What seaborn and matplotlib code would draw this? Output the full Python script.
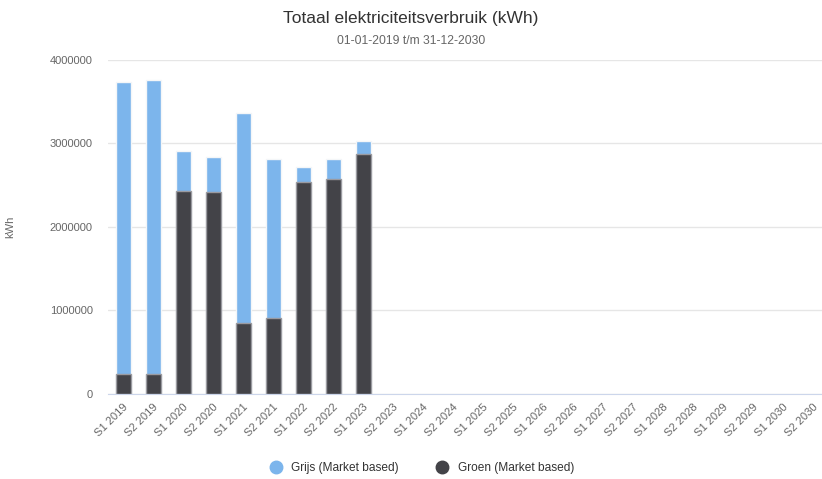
import seaborn as sns
import matplotlib.pyplot as plt
import numpy as np
import pandas as pd
from matplotlib.lines import Line2D

periods = [f'S{h} {y}' for y in range(2019, 2031) for h in (1, 2)]

# values (kWh), only up to S1 2023
grijs = [3490000, 3510000, 480000, 430000, 2520000, 1905000, 190000, 240000, 160000]
groen = [240000, 240000, 2430000, 2410000, 845000, 905000, 2530000, 2570000, 2870000]

n = len(grijs)
df = pd.DataFrame({
    'periode': periods,
    'Grijs': grijs + [np.nan] * (len(periods) - n),
    'Groen': groen + [np.nan] * (len(periods) - n),
})
df['Totaal'] = df['Grijs'] + df['Groen']

blue = '#7cb5ec'
dark = '#434348'

sns.set_style('white')
plt.rcParams['font.family'] = ['Liberation Sans', 'DejaVu Sans']

fig = plt.figure(figsize=(8.22, 4.79), dpi=100)
ax = fig.add_axes([108 / 822, 85 / 479, 714 / 822, 334.5 / 479])

sns.barplot(data=df, x='periode', y='Totaal', order=periods, color=blue,
            width=0.5, edgecolor='#f4f6f8', linewidth=1, saturation=1, ax=ax)
sns.barplot(data=df, x='periode', y='Groen', order=periods, color=dark,
            width=0.5, edgecolor='#9a9aa0', linewidth=1, saturation=1, ax=ax)

ax.set_xlim(-0.5, 23.3)
ax.set_ylim(0, 4000000)
ax.set_yticks([0, 1000000, 2000000, 3000000, 4000000])
ax.set_yticklabels(['0', '1000000', '2000000', '3000000', '4000000'])
ax.yaxis.grid(True, color='#e6e6e6', linewidth=1)
ax.set_axisbelow(True)
for side in ['top', 'right', 'left']:
    ax.spines[side].set_visible(False)
ax.spines['bottom'].set_color('#ccd6eb')
ax.tick_params(axis='y', length=0, labelsize=8, labelcolor='#666666', pad=11)
ax.tick_params(axis='x', length=0, labelsize=8, labelcolor='#666666', pad=6)
plt.setp(ax.get_xticklabels(), rotation=45, ha='right', rotation_mode='anchor')
ax.set_xlabel('')
ax.set_ylabel('kWh', color='#666666', fontsize=8)
ax.yaxis.set_label_coords(-93 / 714, 0.5)

fig.text(0.5, 1 - 18 / 479, 'Totaal elektriciteitsverbruik (kWh)', ha='center', va='center',
         fontsize=12.5, color='#333333')
fig.text(0.5, 1 - 41 / 479, '01-01-2019 t/m 31-12-2030', ha='center', va='center',
         fontsize=8.7, color='#666666')

handles = [Line2D([], [], marker='o', linestyle='', markersize=9, color=blue),
           Line2D([], [], marker='o', linestyle='', markersize=9, color=dark)]
fig.legend(handles, ['Grijs (Market based)', 'Groen (Market based)'], loc='center',
           bbox_to_anchor=(419 / 822, 1 - 468 / 479), ncol=2, frameon=False, fontsize=8.6,
           handletextpad=0.3, columnspacing=2.6, labelcolor='#333333')

fig.savefig('out.png', dpi=100)
